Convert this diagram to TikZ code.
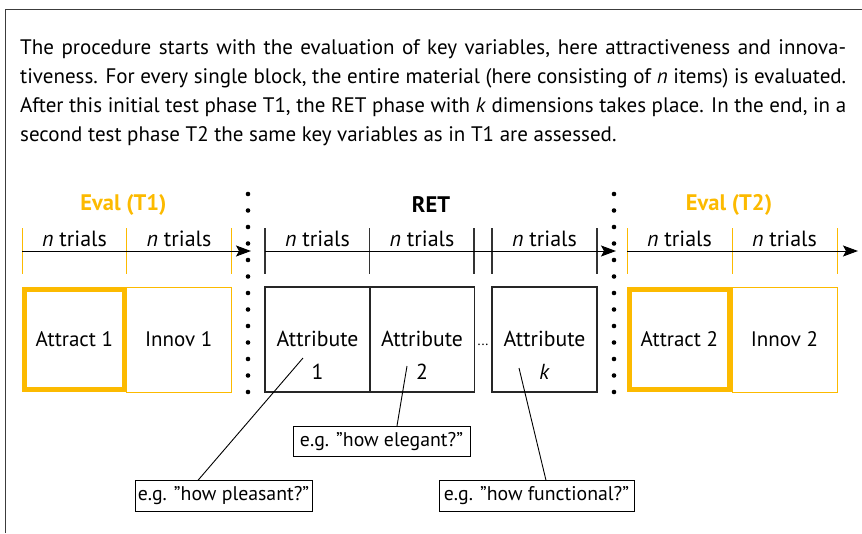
\documentclass[tikz,border=0pt]{standalone}
\usepackage{fontspec}
\setmainfont{PT Sans}
\usetikzlibrary{arrows.meta}
\definecolor{evalorange}{RGB}{252,186,0}
\definecolor{framegray}{RGB}{60,60,60}
\tikzset{
  txt/.style={font=\fontsize{21}{24}\selectfont, inner sep=0pt},
  trials/.style={font=\fontsize{22}{24}\selectfont, inner sep=0pt},
  para/.style={font=\fontsize{21}{24}\selectfont, inner sep=0pt, anchor=base west},
  head/.style={font=\fontsize{22.5}{24}\selectfont\bfseries, inner sep=0pt},
  thickbox/.style={draw=evalorange, line width=5pt, minimum width=99.7pt, minimum height=100pt, inner sep=0pt},
  thinbox/.style={draw=evalorange, line width=1pt, minimum width=105pt, minimum height=105pt, inner sep=0pt},
  attrbox/.style={draw=black!85, line width=1.1pt, minimum width=105pt, minimum height=105pt, inner sep=0pt},
  attrtxt/.style={font=\fontsize{21.7}{24}\selectfont, inner sep=0pt},
  callout/.style={draw=black, line width=0.9pt, minimum height=30.5pt, inner sep=0pt, font=\fontsize{19.8}{22}\selectfont},
  otick/.style={draw=evalorange, line width=1pt},
  btick/.style={draw=black!80, line width=1.2pt},
  tline/.style={draw=black, line width=1pt, -{Stealth[length=15pt,width=11pt,inset=3pt]}},
  sepdot/.style={fill=black, circle, inner sep=0pt, minimum size=4.6pt},
}
\begin{document}
\begin{tikzpicture}[x=1pt,y=-1pt]
\useasboundingbox (0,0) rectangle (862,533);
% frame
\coordinate (fr1) at (5.5,533);
\coordinate (fr2) at (5.5,9.5);
\coordinate (fr3) at (862,9.5);
\draw[framegray, line width=1.5pt] (fr1) -- (fr2) -- (fr3);

% paragraph
\node[para] (p1) at (20,54) {\makebox[826pt][s]{The procedure starts with the evaluation of key variables, here attractiveness and innova-}};
\node[para] (p2) at (20,83) {\makebox[826pt][s]{tiveness. For every single block, the entire material (here consisting of \textit{n} items) is evaluated.}};
\node[para] (p3) at (20,112) {\makebox[826pt][s]{After this initial test phase T1, the RET phase with \textit{k} dimensions takes place. In the end, in a}};
\node[para] (p4) at (20,141) {second test phase T2 the same key variables as in T1 are assessed.};

% headings
\node[head, text=evalorange] (h1) at (123.5,205) {Eval (T1)};
\node[head] (h2) at (431,205) {RET};
\node[head, text=evalorange] (h3) at (729,205) {Eval (T2)};

% timeline coordinates
\foreach \n/\x in {a/22,b/126.5,c/231}{
  \coordinate (\n t) at (\x,228);
  \coordinate (\n b) at (\x,274);
  \draw[otick] (\n t) -- (\n b);
}
\foreach \n/\x in {d/265,e/369.5,f/474,g/492,h/597}{
  \coordinate (\n t) at (\x,228);
  \coordinate (\n b) at (\x,274);
  \draw[btick] (\n t) -- (\n b);
}
\foreach \n/\x in {i/627,j/732,k/837}{
  \coordinate (\n t) at (\x,228);
  \coordinate (\n b) at (\x,274);
  \draw[otick] (\n t) -- (\n b);
}
\coordinate (l1s) at (22,251); \coordinate (l1e) at (251,251);
\coordinate (l2s) at (265,251); \coordinate (l2e) at (616,251);
\coordinate (l3s) at (627,251); \coordinate (l3e) at (858,251);
\draw[tline] (l1s) -- (l1e);
\draw[tline] (l2s) -- (l2e);
\draw[tline] (l3s) -- (l3e);

% n trials labels
\foreach \n/\x in {n1/74.5,n2/179,n3/317.5,n4/422,n5/544.5,n6/679.5,n7/784.5}{
  \node[trials] (\n) at (\x,239) {\textit{n} trials};
}

% separators
\foreach \i in {0,...,12}{
  \node[sepdot] (sa\i) at (248,194+16.5*\i) {};
  \node[sepdot] (sb\i) at (614,194+16.5*\i) {};
}

% boxes
\node[thickbox, txt] (att1) at (74.35,339.5) {Attract 1};
\node[thinbox, txt] (inn1) at (178.7,339.5) {Innov 1};
\node[attrbox] (r1) at (317.5,339.5) {};
\node[attrbox] (r2) at (422,339.5) {};
\node[attrbox] (rk) at (544.5,339.5) {};
\node[thickbox, txt] (att2) at (679.35,339.5) {Attract 2};
\node[thinbox, txt] (inn2) at (784.5,339.5) {Innov 2};

\node[attrtxt] (r1a) at (317.5,339) {Attribute};
\node[attrtxt] (r1b) at (317.5,372) {1};
\node[attrtxt] (r2a) at (422,339) {Attribute};
\node[attrtxt] (r2b) at (422,372) {2};
\node[attrtxt] (rka) at (544.5,339) {Attribute};
\node[attrtxt] (rkb) at (544.5,372) {\textit{k}};
\node[font=\fontsize{14}{16}\selectfont, inner sep=0pt] (dots) at (483,345) {...};

% callouts
\node[callout, minimum width=177pt] (cp) at (223.5,496) {e.g. "how pleasant?"};
\node[callout, minimum width=177pt] (ce) at (381.5,441.5) {e.g. "how elegant?"};
\node[callout, minimum width=195pt] (cf) at (536.5,496) {e.g. "how functional?"};

\coordinate (pp) at (303,358);
\coordinate (pe) at (407,366);
\coordinate (pf) at (519,368);
\draw[line width=0.9pt] (pp) -- (cp.north west -| 198,0);
\draw[line width=0.9pt] (pe) -- (ce.north west -| 397,0);
\draw[line width=0.9pt] (pf) -- (cf.north west -| 546,0);
\end{tikzpicture}
\end{document}
